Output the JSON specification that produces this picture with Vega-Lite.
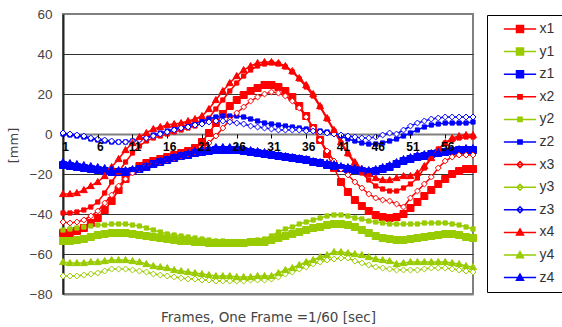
{
"$schema":"https://vega.github.io/schema/vega-lite/v6.json",
"width":410,"height":280,"autosize":"none",
"padding":{"left":63,"top":14,"right":89,"bottom":33},
"background":"white",
"config":{"view":{"stroke":"#808080","strokeWidth":2}},
"datasets":{"d":[
{"f":1,"s":"x1","v":-49.5},{"f":2,"s":"x1","v":-49.5},{"f":3,"s":"x1","v":-48.5},{"f":4,"s":"x1","v":-47},{"f":5,"s":"x1","v":-44.5},{"f":6,"s":"x1","v":-42},{"f":7,"s":"x1","v":-38},{"f":8,"s":"x1","v":-33.5},{"f":9,"s":"x1","v":-28},{"f":10,"s":"x1","v":-22.5},
{"f":11,"s":"x1","v":-18.5},{"f":12,"s":"x1","v":-16},{"f":13,"s":"x1","v":-14.5},{"f":14,"s":"x1","v":-13.5},{"f":15,"s":"x1","v":-12.5},{"f":16,"s":"x1","v":-11.5},{"f":17,"s":"x1","v":-10.5},{"f":18,"s":"x1","v":-9.5},{"f":19,"s":"x1","v":-8.5},{"f":20,"s":"x1","v":-7},
{"f":21,"s":"x1","v":-4},{"f":22,"s":"x1","v":0.5},{"f":23,"s":"x1","v":5.5},{"f":24,"s":"x1","v":10},{"f":25,"s":"x1","v":14},{"f":26,"s":"x1","v":17},{"f":27,"s":"x1","v":19.5},{"f":28,"s":"x1","v":21.5},{"f":29,"s":"x1","v":23},{"f":30,"s":"x1","v":24.5},
{"f":31,"s":"x1","v":24.5},{"f":32,"s":"x1","v":23.5},{"f":33,"s":"x1","v":21.5},{"f":34,"s":"x1","v":18.5},{"f":35,"s":"x1","v":14},{"f":36,"s":"x1","v":9},{"f":37,"s":"x1","v":3},{"f":38,"s":"x1","v":-3},{"f":39,"s":"x1","v":-10},{"f":40,"s":"x1","v":-17},
{"f":41,"s":"x1","v":-24},{"f":42,"s":"x1","v":-29},{"f":43,"s":"x1","v":-33},{"f":44,"s":"x1","v":-36},{"f":45,"s":"x1","v":-38.5},{"f":46,"s":"x1","v":-40.5},{"f":47,"s":"x1","v":-41.5},{"f":48,"s":"x1","v":-42},{"f":49,"s":"x1","v":-41.5},{"f":50,"s":"x1","v":-40},
{"f":51,"s":"x1","v":-37},{"f":52,"s":"x1","v":-34},{"f":53,"s":"x1","v":-31},{"f":54,"s":"x1","v":-28},{"f":55,"s":"x1","v":-25},{"f":56,"s":"x1","v":-22.5},{"f":57,"s":"x1","v":-20},{"f":58,"s":"x1","v":-18.5},{"f":59,"s":"x1","v":-17.5},{"f":60,"s":"x1","v":-17.5},
{"f":1,"s":"y1","v":-53.5},{"f":2,"s":"y1","v":-53.5},{"f":3,"s":"y1","v":-53},{"f":4,"s":"y1","v":-52.5},{"f":5,"s":"y1","v":-51.5},{"f":6,"s":"y1","v":-50.5},{"f":7,"s":"y1","v":-50},{"f":8,"s":"y1","v":-49.5},{"f":9,"s":"y1","v":-49.5},{"f":10,"s":"y1","v":-49.5},
{"f":11,"s":"y1","v":-50},{"f":12,"s":"y1","v":-50.5},{"f":13,"s":"y1","v":-51},{"f":14,"s":"y1","v":-51.5},{"f":15,"s":"y1","v":-52},{"f":16,"s":"y1","v":-52.5},{"f":17,"s":"y1","v":-53},{"f":18,"s":"y1","v":-53.5},{"f":19,"s":"y1","v":-53.5},{"f":20,"s":"y1","v":-54},
{"f":21,"s":"y1","v":-54},{"f":22,"s":"y1","v":-54.5},{"f":23,"s":"y1","v":-54.5},{"f":24,"s":"y1","v":-54.5},{"f":25,"s":"y1","v":-54.5},{"f":26,"s":"y1","v":-54.5},{"f":27,"s":"y1","v":-54.5},{"f":28,"s":"y1","v":-54},{"f":29,"s":"y1","v":-54},{"f":30,"s":"y1","v":-54},
{"f":31,"s":"y1","v":-53},{"f":32,"s":"y1","v":-52},{"f":33,"s":"y1","v":-51},{"f":34,"s":"y1","v":-50},{"f":35,"s":"y1","v":-49},{"f":36,"s":"y1","v":-48},{"f":37,"s":"y1","v":-47},{"f":38,"s":"y1","v":-46.5},{"f":39,"s":"y1","v":-45.5},{"f":40,"s":"y1","v":-45},
{"f":41,"s":"y1","v":-45},{"f":42,"s":"y1","v":-45.5},{"f":43,"s":"y1","v":-46.5},{"f":44,"s":"y1","v":-48},{"f":45,"s":"y1","v":-49.5},{"f":46,"s":"y1","v":-51},{"f":47,"s":"y1","v":-52},{"f":48,"s":"y1","v":-52.5},{"f":49,"s":"y1","v":-53},{"f":50,"s":"y1","v":-53},
{"f":51,"s":"y1","v":-52.5},{"f":52,"s":"y1","v":-52},{"f":53,"s":"y1","v":-51.5},{"f":54,"s":"y1","v":-51},{"f":55,"s":"y1","v":-50.5},{"f":56,"s":"y1","v":-50},{"f":57,"s":"y1","v":-50},{"f":58,"s":"y1","v":-50.5},{"f":59,"s":"y1","v":-51.5},{"f":60,"s":"y1","v":-52},
{"f":1,"s":"z1","v":-15.5},{"f":2,"s":"z1","v":-16},{"f":3,"s":"z1","v":-16.5},{"f":4,"s":"z1","v":-17},{"f":5,"s":"z1","v":-17.5},{"f":6,"s":"z1","v":-18},{"f":7,"s":"z1","v":-18.5},{"f":8,"s":"z1","v":-19},{"f":9,"s":"z1","v":-19},{"f":10,"s":"z1","v":-19},
{"f":11,"s":"z1","v":-18.5},{"f":12,"s":"z1","v":-17.5},{"f":13,"s":"z1","v":-16.5},{"f":14,"s":"z1","v":-15},{"f":15,"s":"z1","v":-14},{"f":16,"s":"z1","v":-13},{"f":17,"s":"z1","v":-12},{"f":18,"s":"z1","v":-11},{"f":19,"s":"z1","v":-10.5},{"f":20,"s":"z1","v":-9.5},
{"f":21,"s":"z1","v":-9},{"f":22,"s":"z1","v":-8.5},{"f":23,"s":"z1","v":-8},{"f":24,"s":"z1","v":-8},{"f":25,"s":"z1","v":-8},{"f":26,"s":"z1","v":-8},{"f":27,"s":"z1","v":-8.5},{"f":28,"s":"z1","v":-9},{"f":29,"s":"z1","v":-9.5},{"f":30,"s":"z1","v":-10},
{"f":31,"s":"z1","v":-10.5},{"f":32,"s":"z1","v":-11},{"f":33,"s":"z1","v":-11.5},{"f":34,"s":"z1","v":-12},{"f":35,"s":"z1","v":-12.5},{"f":36,"s":"z1","v":-13},{"f":37,"s":"z1","v":-14},{"f":38,"s":"z1","v":-14.5},{"f":39,"s":"z1","v":-15.5},{"f":40,"s":"z1","v":-16},
{"f":41,"s":"z1","v":-17},{"f":42,"s":"z1","v":-17.5},{"f":43,"s":"z1","v":-18},{"f":44,"s":"z1","v":-18.5},{"f":45,"s":"z1","v":-19},{"f":46,"s":"z1","v":-18.5},{"f":47,"s":"z1","v":-17.5},{"f":48,"s":"z1","v":-16.5},{"f":49,"s":"z1","v":-15},{"f":50,"s":"z1","v":-13.5},
{"f":51,"s":"z1","v":-12.5},{"f":52,"s":"z1","v":-11.5},{"f":53,"s":"z1","v":-11},{"f":54,"s":"z1","v":-10},{"f":55,"s":"z1","v":-9.5},{"f":56,"s":"z1","v":-9},{"f":57,"s":"z1","v":-8.5},{"f":58,"s":"z1","v":-8},{"f":59,"s":"z1","v":-8},{"f":60,"s":"z1","v":-8},
{"f":1,"s":"x2","v":-39.5},{"f":2,"s":"x2","v":-39.5},{"f":3,"s":"x2","v":-39},{"f":4,"s":"x2","v":-38},{"f":5,"s":"x2","v":-36.5},{"f":6,"s":"x2","v":-34},{"f":7,"s":"x2","v":-29.5},{"f":8,"s":"x2","v":-24},{"f":9,"s":"x2","v":-19},{"f":10,"s":"x2","v":-14},
{"f":11,"s":"x2","v":-9.5},{"f":12,"s":"x2","v":-6},{"f":13,"s":"x2","v":-3.5},{"f":14,"s":"x2","v":-2},{"f":15,"s":"x2","v":-1},{"f":16,"s":"x2","v":0},{"f":17,"s":"x2","v":1},{"f":18,"s":"x2","v":2},{"f":19,"s":"x2","v":3},{"f":20,"s":"x2","v":4},
{"f":21,"s":"x2","v":5.5},{"f":22,"s":"x2","v":8},{"f":23,"s":"x2","v":12.5},{"f":24,"s":"x2","v":17},{"f":25,"s":"x2","v":21.5},{"f":26,"s":"x2","v":25.5},{"f":27,"s":"x2","v":29},{"f":28,"s":"x2","v":32},{"f":29,"s":"x2","v":34},{"f":30,"s":"x2","v":35},
{"f":31,"s":"x2","v":35.5},{"f":32,"s":"x2","v":35},{"f":33,"s":"x2","v":33.5},{"f":34,"s":"x2","v":31},{"f":35,"s":"x2","v":27.5},{"f":36,"s":"x2","v":23.5},{"f":37,"s":"x2","v":19},{"f":38,"s":"x2","v":13.5},{"f":39,"s":"x2","v":7.5},{"f":40,"s":"x2","v":1.5},
{"f":41,"s":"x2","v":-4.5},{"f":42,"s":"x2","v":-10},{"f":43,"s":"x2","v":-15},{"f":44,"s":"x2","v":-19.5},{"f":45,"s":"x2","v":-23},{"f":46,"s":"x2","v":-26},{"f":47,"s":"x2","v":-27.5},{"f":48,"s":"x2","v":-28.5},{"f":49,"s":"x2","v":-28.5},{"f":50,"s":"x2","v":-27},
{"f":51,"s":"x2","v":-25},{"f":52,"s":"x2","v":-22},{"f":53,"s":"x2","v":-17},{"f":54,"s":"x2","v":-12},{"f":55,"s":"x2","v":-7.5},{"f":56,"s":"x2","v":-4.5},{"f":57,"s":"x2","v":-3},{"f":58,"s":"x2","v":-2},{"f":59,"s":"x2","v":-1.5},{"f":60,"s":"x2","v":-1.5},
{"f":1,"s":"y2","v":-48},{"f":2,"s":"y2","v":-47.5},{"f":3,"s":"y2","v":-47},{"f":4,"s":"y2","v":-46.5},{"f":5,"s":"y2","v":-46},{"f":6,"s":"y2","v":-45.5},{"f":7,"s":"y2","v":-45.5},{"f":8,"s":"y2","v":-45},{"f":9,"s":"y2","v":-45},{"f":10,"s":"y2","v":-45},
{"f":11,"s":"y2","v":-45.5},{"f":12,"s":"y2","v":-46},{"f":13,"s":"y2","v":-47},{"f":14,"s":"y2","v":-48},{"f":15,"s":"y2","v":-49},{"f":16,"s":"y2","v":-50},{"f":17,"s":"y2","v":-50.5},{"f":18,"s":"y2","v":-51},{"f":19,"s":"y2","v":-51.5},{"f":20,"s":"y2","v":-52},
{"f":21,"s":"y2","v":-52.5},{"f":22,"s":"y2","v":-53},{"f":23,"s":"y2","v":-53.5},{"f":24,"s":"y2","v":-53.5},{"f":25,"s":"y2","v":-54},{"f":26,"s":"y2","v":-54},{"f":27,"s":"y2","v":-54},{"f":28,"s":"y2","v":-53.5},{"f":29,"s":"y2","v":-53},{"f":30,"s":"y2","v":-52.5},
{"f":31,"s":"y2","v":-51},{"f":32,"s":"y2","v":-49},{"f":33,"s":"y2","v":-47.5},{"f":34,"s":"y2","v":-46.5},{"f":35,"s":"y2","v":-45},{"f":36,"s":"y2","v":-44},{"f":37,"s":"y2","v":-43},{"f":38,"s":"y2","v":-42},{"f":39,"s":"y2","v":-41},{"f":40,"s":"y2","v":-40.5},
{"f":41,"s":"y2","v":-40.5},{"f":42,"s":"y2","v":-41},{"f":43,"s":"y2","v":-42},{"f":44,"s":"y2","v":-42.5},{"f":45,"s":"y2","v":-43.5},{"f":46,"s":"y2","v":-44},{"f":47,"s":"y2","v":-44.5},{"f":48,"s":"y2","v":-45},{"f":49,"s":"y2","v":-45},{"f":50,"s":"y2","v":-45},
{"f":51,"s":"y2","v":-45},{"f":52,"s":"y2","v":-45},{"f":53,"s":"y2","v":-44.5},{"f":54,"s":"y2","v":-44.5},{"f":55,"s":"y2","v":-44.5},{"f":56,"s":"y2","v":-44.5},{"f":57,"s":"y2","v":-45},{"f":58,"s":"y2","v":-45.5},{"f":59,"s":"y2","v":-46.5},{"f":60,"s":"y2","v":-47.5},
{"f":1,"s":"z2","v":0},{"f":2,"s":"z2","v":-0.5},{"f":3,"s":"z2","v":-1},{"f":4,"s":"z2","v":-1.5},{"f":5,"s":"z2","v":-2.5},{"f":6,"s":"z2","v":-3},{"f":7,"s":"z2","v":-3.5},{"f":8,"s":"z2","v":-4},{"f":9,"s":"z2","v":-4},{"f":10,"s":"z2","v":-4},
{"f":11,"s":"z2","v":-3.5},{"f":12,"s":"z2","v":-2.5},{"f":13,"s":"z2","v":-1.5},{"f":14,"s":"z2","v":-0.5},{"f":15,"s":"z2","v":0.5},{"f":16,"s":"z2","v":1.5},{"f":17,"s":"z2","v":2.5},{"f":18,"s":"z2","v":3.5},{"f":19,"s":"z2","v":4.5},{"f":20,"s":"z2","v":5.5},
{"f":21,"s":"z2","v":6.5},{"f":22,"s":"z2","v":7.5},{"f":23,"s":"z2","v":8.5},{"f":24,"s":"z2","v":9},{"f":25,"s":"z2","v":9},{"f":26,"s":"z2","v":9},{"f":27,"s":"z2","v":8.5},{"f":28,"s":"z2","v":7.5},{"f":29,"s":"z2","v":6.5},{"f":30,"s":"z2","v":5.5},
{"f":31,"s":"z2","v":5},{"f":32,"s":"z2","v":4.5},{"f":33,"s":"z2","v":4},{"f":34,"s":"z2","v":3.5},{"f":35,"s":"z2","v":3},{"f":36,"s":"z2","v":2.5},{"f":37,"s":"z2","v":2},{"f":38,"s":"z2","v":1.5},{"f":39,"s":"z2","v":1},{"f":40,"s":"z2","v":0.5},
{"f":41,"s":"z2","v":-1},{"f":42,"s":"z2","v":-2.5},{"f":43,"s":"z2","v":-3.5},{"f":44,"s":"z2","v":-4.5},{"f":45,"s":"z2","v":-5},{"f":46,"s":"z2","v":-5},{"f":47,"s":"z2","v":-4.5},{"f":48,"s":"z2","v":-3.5},{"f":49,"s":"z2","v":-2.5},{"f":50,"s":"z2","v":-1},
{"f":51,"s":"z2","v":0.5},{"f":52,"s":"z2","v":2},{"f":53,"s":"z2","v":3.5},{"f":54,"s":"z2","v":4.5},{"f":55,"s":"z2","v":5},{"f":56,"s":"z2","v":5.5},{"f":57,"s":"z2","v":5.5},{"f":58,"s":"z2","v":5.5},{"f":59,"s":"z2","v":5.5},{"f":60,"s":"z2","v":6},
{"f":1,"s":"x3","v":-44},{"f":2,"s":"x3","v":-44.5},{"f":3,"s":"x3","v":-44},{"f":4,"s":"x3","v":-43},{"f":5,"s":"x3","v":-41},{"f":6,"s":"x3","v":-38.5},{"f":7,"s":"x3","v":-34.5},{"f":8,"s":"x3","v":-30.5},{"f":9,"s":"x3","v":-26},{"f":10,"s":"x3","v":-22.5},
{"f":11,"s":"x3","v":-19.5},{"f":12,"s":"x3","v":-17.5},{"f":13,"s":"x3","v":-16},{"f":14,"s":"x3","v":-15},{"f":15,"s":"x3","v":-14},{"f":16,"s":"x3","v":-13},{"f":17,"s":"x3","v":-12},{"f":18,"s":"x3","v":-11},{"f":19,"s":"x3","v":-10},{"f":20,"s":"x3","v":-9},
{"f":21,"s":"x3","v":-7.5},{"f":22,"s":"x3","v":-4.5},{"f":23,"s":"x3","v":-1},{"f":24,"s":"x3","v":3},{"f":25,"s":"x3","v":7},{"f":26,"s":"x3","v":10.5},{"f":27,"s":"x3","v":13.5},{"f":28,"s":"x3","v":16.5},{"f":29,"s":"x3","v":18.5},{"f":30,"s":"x3","v":20},
{"f":31,"s":"x3","v":21},{"f":32,"s":"x3","v":20.5},{"f":33,"s":"x3","v":19},{"f":34,"s":"x3","v":16.5},{"f":35,"s":"x3","v":13},{"f":36,"s":"x3","v":8.5},{"f":37,"s":"x3","v":3},{"f":38,"s":"x3","v":-3},{"f":39,"s":"x3","v":-8.5},{"f":40,"s":"x3","v":-13.5},
{"f":41,"s":"x3","v":-17.5},{"f":42,"s":"x3","v":-20.5},{"f":43,"s":"x3","v":-24},{"f":44,"s":"x3","v":-27},{"f":45,"s":"x3","v":-30},{"f":46,"s":"x3","v":-32},{"f":47,"s":"x3","v":-33},{"f":48,"s":"x3","v":-33.5},{"f":49,"s":"x3","v":-35},{"f":50,"s":"x3","v":-36.5},
{"f":51,"s":"x3","v":-32},{"f":52,"s":"x3","v":-28.5},{"f":53,"s":"x3","v":-25},{"f":54,"s":"x3","v":-21.5},{"f":55,"s":"x3","v":-17},{"f":56,"s":"x3","v":-13.5},{"f":57,"s":"x3","v":-11.5},{"f":58,"s":"x3","v":-10.5},{"f":59,"s":"x3","v":-10.5},{"f":60,"s":"x3","v":-10.5},
{"f":1,"s":"y3","v":-71},{"f":2,"s":"y3","v":-71},{"f":3,"s":"y3","v":-71},{"f":4,"s":"y3","v":-70.5},{"f":5,"s":"y3","v":-70},{"f":6,"s":"y3","v":-69.5},{"f":7,"s":"y3","v":-68.5},{"f":8,"s":"y3","v":-67.5},{"f":9,"s":"y3","v":-67.5},{"f":10,"s":"y3","v":-67.5},
{"f":11,"s":"y3","v":-68},{"f":12,"s":"y3","v":-68.5},{"f":13,"s":"y3","v":-69},{"f":14,"s":"y3","v":-70},{"f":15,"s":"y3","v":-70.5},{"f":16,"s":"y3","v":-71},{"f":17,"s":"y3","v":-71.5},{"f":18,"s":"y3","v":-72},{"f":19,"s":"y3","v":-72.5},{"f":20,"s":"y3","v":-72.5},
{"f":21,"s":"y3","v":-73},{"f":22,"s":"y3","v":-73},{"f":23,"s":"y3","v":-73.5},{"f":24,"s":"y3","v":-73.5},{"f":25,"s":"y3","v":-73.5},{"f":26,"s":"y3","v":-73.5},{"f":27,"s":"y3","v":-73.5},{"f":28,"s":"y3","v":-73},{"f":29,"s":"y3","v":-73},{"f":30,"s":"y3","v":-73},
{"f":31,"s":"y3","v":-72.5},{"f":32,"s":"y3","v":-71.5},{"f":33,"s":"y3","v":-70},{"f":34,"s":"y3","v":-69},{"f":35,"s":"y3","v":-67.5},{"f":36,"s":"y3","v":-66.5},{"f":37,"s":"y3","v":-65},{"f":38,"s":"y3","v":-64},{"f":39,"s":"y3","v":-63},{"f":40,"s":"y3","v":-62.5},
{"f":41,"s":"y3","v":-62},{"f":42,"s":"y3","v":-62},{"f":43,"s":"y3","v":-63.5},{"f":44,"s":"y3","v":-64.5},{"f":45,"s":"y3","v":-65.5},{"f":46,"s":"y3","v":-66.5},{"f":47,"s":"y3","v":-67},{"f":48,"s":"y3","v":-67.5},{"f":49,"s":"y3","v":-68},{"f":50,"s":"y3","v":-68},
{"f":51,"s":"y3","v":-68},{"f":52,"s":"y3","v":-68},{"f":53,"s":"y3","v":-67.5},{"f":54,"s":"y3","v":-67},{"f":55,"s":"y3","v":-67},{"f":56,"s":"y3","v":-67},{"f":57,"s":"y3","v":-67.5},{"f":58,"s":"y3","v":-68},{"f":59,"s":"y3","v":-68.5},{"f":60,"s":"y3","v":-69},
{"f":1,"s":"z3","v":0.5},{"f":2,"s":"z3","v":0},{"f":3,"s":"z3","v":-0.5},{"f":4,"s":"z3","v":-1},{"f":5,"s":"z3","v":-2},{"f":6,"s":"z3","v":-2.5},{"f":7,"s":"z3","v":-3},{"f":8,"s":"z3","v":-3.5},{"f":9,"s":"z3","v":-4},{"f":10,"s":"z3","v":-4},
{"f":11,"s":"z3","v":-3.5},{"f":12,"s":"z3","v":-3},{"f":13,"s":"z3","v":-2},{"f":14,"s":"z3","v":-1},{"f":15,"s":"z3","v":0},{"f":16,"s":"z3","v":1},{"f":17,"s":"z3","v":2},{"f":18,"s":"z3","v":3},{"f":19,"s":"z3","v":3.5},{"f":20,"s":"z3","v":4.5},
{"f":21,"s":"z3","v":5},{"f":22,"s":"z3","v":6},{"f":23,"s":"z3","v":6.5},{"f":24,"s":"z3","v":6.5},{"f":25,"s":"z3","v":6},{"f":26,"s":"z3","v":5.5},{"f":27,"s":"z3","v":5},{"f":28,"s":"z3","v":4},{"f":29,"s":"z3","v":3.5},{"f":30,"s":"z3","v":3},
{"f":31,"s":"z3","v":2.5},{"f":32,"s":"z3","v":2},{"f":33,"s":"z3","v":2},{"f":34,"s":"z3","v":2},{"f":35,"s":"z3","v":2},{"f":36,"s":"z3","v":1.5},{"f":37,"s":"z3","v":1.5},{"f":38,"s":"z3","v":1},{"f":39,"s":"z3","v":0.5},{"f":40,"s":"z3","v":0},
{"f":41,"s":"z3","v":-0.5},{"f":42,"s":"z3","v":-1},{"f":43,"s":"z3","v":-1.5},{"f":44,"s":"z3","v":-2},{"f":45,"s":"z3","v":-2},{"f":46,"s":"z3","v":-1.5},{"f":47,"s":"z3","v":-0.5},{"f":48,"s":"z3","v":0.5},{"f":49,"s":"z3","v":0},{"f":50,"s":"z3","v":2},
{"f":51,"s":"z3","v":4},{"f":52,"s":"z3","v":5.5},{"f":53,"s":"z3","v":6.5},{"f":54,"s":"z3","v":7.5},{"f":55,"s":"z3","v":8},{"f":56,"s":"z3","v":8.5},{"f":57,"s":"z3","v":8.5},{"f":58,"s":"z3","v":8.5},{"f":59,"s":"z3","v":8.5},{"f":60,"s":"z3","v":8.5},
{"f":1,"s":"x4","v":-30},{"f":2,"s":"x4","v":-30},{"f":3,"s":"x4","v":-29.5},{"f":4,"s":"x4","v":-28},{"f":5,"s":"x4","v":-26},{"f":6,"s":"x4","v":-24},{"f":7,"s":"x4","v":-21},{"f":8,"s":"x4","v":-16.5},{"f":9,"s":"x4","v":-12.5},{"f":10,"s":"x4","v":-8},
{"f":11,"s":"x4","v":-4.5},{"f":12,"s":"x4","v":-1.5},{"f":13,"s":"x4","v":0.5},{"f":14,"s":"x4","v":2.5},{"f":15,"s":"x4","v":3.5},{"f":16,"s":"x4","v":4.5},{"f":17,"s":"x4","v":5},{"f":18,"s":"x4","v":5.5},{"f":19,"s":"x4","v":6.5},{"f":20,"s":"x4","v":7.5},
{"f":21,"s":"x4","v":9},{"f":22,"s":"x4","v":12.5},{"f":23,"s":"x4","v":17},{"f":24,"s":"x4","v":21.5},{"f":25,"s":"x4","v":25.5},{"f":26,"s":"x4","v":29},{"f":27,"s":"x4","v":32},{"f":28,"s":"x4","v":34},{"f":29,"s":"x4","v":35.5},{"f":30,"s":"x4","v":36},
{"f":31,"s":"x4","v":36},{"f":32,"s":"x4","v":35.5},{"f":33,"s":"x4","v":34},{"f":34,"s":"x4","v":31.5},{"f":35,"s":"x4","v":28},{"f":36,"s":"x4","v":24.5},{"f":37,"s":"x4","v":20},{"f":38,"s":"x4","v":14},{"f":39,"s":"x4","v":8},{"f":40,"s":"x4","v":2},
{"f":41,"s":"x4","v":-4},{"f":42,"s":"x4","v":-9.5},{"f":43,"s":"x4","v":-14},{"f":44,"s":"x4","v":-17.5},{"f":45,"s":"x4","v":-20},{"f":46,"s":"x4","v":-22},{"f":47,"s":"x4","v":-23},{"f":48,"s":"x4","v":-23},{"f":49,"s":"x4","v":-22},{"f":50,"s":"x4","v":-21},
{"f":51,"s":"x4","v":-21},{"f":52,"s":"x4","v":-19.5},{"f":53,"s":"x4","v":-16},{"f":54,"s":"x4","v":-12},{"f":55,"s":"x4","v":-8},{"f":56,"s":"x4","v":-4.5},{"f":57,"s":"x4","v":-2},{"f":58,"s":"x4","v":-1},{"f":59,"s":"x4","v":-0.5},{"f":60,"s":"x4","v":-0.5},
{"f":1,"s":"y4","v":-64},{"f":2,"s":"y4","v":-64.5},{"f":3,"s":"y4","v":-64.5},{"f":4,"s":"y4","v":-64.5},{"f":5,"s":"y4","v":-64},{"f":6,"s":"y4","v":-64},{"f":7,"s":"y4","v":-63.5},{"f":8,"s":"y4","v":-63},{"f":9,"s":"y4","v":-63},{"f":10,"s":"y4","v":-63},
{"f":11,"s":"y4","v":-63.5},{"f":12,"s":"y4","v":-64},{"f":13,"s":"y4","v":-65},{"f":14,"s":"y4","v":-66},{"f":15,"s":"y4","v":-66.5},{"f":16,"s":"y4","v":-67},{"f":17,"s":"y4","v":-68},{"f":18,"s":"y4","v":-68.5},{"f":19,"s":"y4","v":-69},{"f":20,"s":"y4","v":-69.5},
{"f":21,"s":"y4","v":-70},{"f":22,"s":"y4","v":-70.5},{"f":23,"s":"y4","v":-71},{"f":24,"s":"y4","v":-71},{"f":25,"s":"y4","v":-71},{"f":26,"s":"y4","v":-71.5},{"f":27,"s":"y4","v":-71.5},{"f":28,"s":"y4","v":-71.5},{"f":29,"s":"y4","v":-71},{"f":30,"s":"y4","v":-71},
{"f":31,"s":"y4","v":-71},{"f":32,"s":"y4","v":-69.5},{"f":33,"s":"y4","v":-68},{"f":34,"s":"y4","v":-67},{"f":35,"s":"y4","v":-65.5},{"f":36,"s":"y4","v":-64},{"f":37,"s":"y4","v":-63},{"f":38,"s":"y4","v":-61.5},{"f":39,"s":"y4","v":-60.5},{"f":40,"s":"y4","v":-59},
{"f":41,"s":"y4","v":-59},{"f":42,"s":"y4","v":-59.5},{"f":43,"s":"y4","v":-60},{"f":44,"s":"y4","v":-60.5},{"f":45,"s":"y4","v":-61.5},{"f":46,"s":"y4","v":-62.5},{"f":47,"s":"y4","v":-63},{"f":48,"s":"y4","v":-63.5},{"f":49,"s":"y4","v":-65},{"f":50,"s":"y4","v":-64.5},
{"f":51,"s":"y4","v":-64},{"f":52,"s":"y4","v":-64},{"f":53,"s":"y4","v":-64},{"f":54,"s":"y4","v":-64},{"f":55,"s":"y4","v":-64},{"f":56,"s":"y4","v":-64},{"f":57,"s":"y4","v":-64.5},{"f":58,"s":"y4","v":-65},{"f":59,"s":"y4","v":-66},{"f":60,"s":"y4","v":-66.5},
{"f":1,"s":"z4","v":-14},{"f":2,"s":"z4","v":-14.5},{"f":3,"s":"z4","v":-15},{"f":4,"s":"z4","v":-15.5},{"f":5,"s":"z4","v":-16},{"f":6,"s":"z4","v":-16.5},{"f":7,"s":"z4","v":-17},{"f":8,"s":"z4","v":-17.5},{"f":9,"s":"z4","v":-18},{"f":10,"s":"z4","v":-18},
{"f":11,"s":"z4","v":-17.5},{"f":12,"s":"z4","v":-17},{"f":13,"s":"z4","v":-16},{"f":14,"s":"z4","v":-15},{"f":15,"s":"z4","v":-13.5},{"f":16,"s":"z4","v":-12.5},{"f":17,"s":"z4","v":-11.5},{"f":18,"s":"z4","v":-10.5},{"f":19,"s":"z4","v":-9.5},{"f":20,"s":"z4","v":-8.5},
{"f":21,"s":"z4","v":-7.5},{"f":22,"s":"z4","v":-7},{"f":23,"s":"z4","v":-6.5},{"f":24,"s":"z4","v":-6.5},{"f":25,"s":"z4","v":-6.5},{"f":26,"s":"z4","v":-7},{"f":27,"s":"z4","v":-7.5},{"f":28,"s":"z4","v":-8},{"f":29,"s":"z4","v":-8.5},{"f":30,"s":"z4","v":-9},
{"f":31,"s":"z4","v":-10},{"f":32,"s":"z4","v":-10.5},{"f":33,"s":"z4","v":-11},{"f":34,"s":"z4","v":-11.5},{"f":35,"s":"z4","v":-12},{"f":36,"s":"z4","v":-12.5},{"f":37,"s":"z4","v":-13.5},{"f":38,"s":"z4","v":-14},{"f":39,"s":"z4","v":-14.5},{"f":40,"s":"z4","v":-15},
{"f":41,"s":"z4","v":-16},{"f":42,"s":"z4","v":-16.5},{"f":43,"s":"z4","v":-17},{"f":44,"s":"z4","v":-17.5},{"f":45,"s":"z4","v":-18},{"f":46,"s":"z4","v":-17.5},{"f":47,"s":"z4","v":-16.5},{"f":48,"s":"z4","v":-15.5},{"f":49,"s":"z4","v":-14},{"f":50,"s":"z4","v":-12.5},
{"f":51,"s":"z4","v":-11.5},{"f":52,"s":"z4","v":-10.5},{"f":53,"s":"z4","v":-10},{"f":54,"s":"z4","v":-9.5},{"f":55,"s":"z4","v":-9},{"f":56,"s":"z4","v":-8.5},{"f":57,"s":"z4","v":-8},{"f":58,"s":"z4","v":-7.5},{"f":59,"s":"z4","v":-7},{"f":60,"s":"z4","v":-7}
]},
"data":{"name":"d"},
"encoding":{
 "x":{"field":"f","type":"quantitative","scale":{"domain":[1,60],"nice":false,"zero":false},
  "axis":{"values":[1,6,11,16,21,26,31,36,41,46,51,56],"offset":-160,"grid":false,"domain":false,"tickColor":"#000","tickSize":4,"tickWidth":1,"labelFont":"Liberation Sans","labelFontSize":12,"labelFontWeight":"bold","labelColor":"#000","labelPadding":3,"labelOffset":2,"labelFlush":false,"labelBaseline":"top","title":"Frames, One Frame =1/60 [sec]","titleFont":"DejaVu Sans","titleFontSize":13.5,"titleFontWeight":"normal","titleColor":"#444444","titleY":187,"titleBaseline":"alphabetic","zindex":1}},
 "y":{"field":"v","type":"quantitative","scale":{"domain":[-80,60],"nice":false,"zero":false},
  "axis":{"values":[-80,-60,-40,-20,0,20,40,60],"title":"[mm]","grid":true,
   "gridColor":{"condition":{"test":"datum.value==60||datum.value==-80||datum.value==0","value":"#808080"},"value":"#333333"},
   "gridWidth":{"condition":{"test":"datum.value==0||datum.value==-80","value":2},"value":1},
   "ticks":false,"labelPadding":11,"domainColor":"#222222","domainWidth":2,"labelFont":"Liberation Sans","labelFontSize":13.5,"labelColor":"#444444","titleFont":"DejaVu Sans","titleFontSize":13,"titleFontWeight":"normal","titleColor":"#444444","titleX":-50,"titleY":131,"titleBaseline":"middle"}}
},
"layer":[
 {"mark":{"type":"line","strokeWidth":1.5,"opacity":1},
  "encoding":{"color":{"field":"s","type":"nominal","legend":null,
   "scale":{"domain":["x1","x2","x3","x4","y1","y2","y3","y4","z1","z2","z3","z4"],"range":["#FF0000","#FF0000","#FF0000","#FF0000","#99CC00","#99CC00","#99CC00","#99CC00","#0000FF","#0000FF","#0000FF","#0000FF"]}}}},
 {"mark":{"type":"point","size":49,"strokeWidth":1,"opacity":1,"filled":true},
  "encoding":{
   "stroke":{"field":"s","type":"nominal","legend":null,
    "scale":{"domain":["x1","y1","z1","x2","y2","z2","x3","y3","z3","x4","y4","z4"],"range":["#FF0000","#99CC00","#0000FF","#FF0000","#99CC00","#0000FF","#FF0000","#99CC00","#0000FF","#FF0000","#99CC00","#0000FF"]}},
   "fill":{"field":"s","type":"nominal","legend":null,"scale":{"domain":["x1","y1","z1","x2","y2","z2","x3","y3","z3","x4","y4","z4"],"range":["#FF0000","#99CC00","#0000FF","#FF0000","#99CC00","#0000FF","#FFFFFF","#FFFFFF","#FFFFFF","#FF0000","#99CC00","#0000FF"]}},
   "shape":{"field":"s","type":"nominal","legend":null,"scale":{"domain":["x1","y1","z1","x2","y2","z2","x3","y3","z3","x4","y4","z4"],"range":["M-1,-1H1V1H-1Z","M-1,-1H1V1H-1Z","M-1,-1H1V1H-1Z","M-0.6,-0.6H0.6V0.6H-0.6Z","M-0.6,-0.6H0.6V0.6H-0.6Z","M-0.6,-0.6H0.6V0.6H-0.6Z","M0,-0.85L0.85,0L0,0.85L-0.85,0Z","M0,-0.85L0.85,0L0,0.85L-0.85,0Z","M0,-0.85L0.85,0L0,0.85L-0.85,0Z","M0,-1L1,0.75H-1Z","M0,-1L1,0.75H-1Z","M0,-1L1,0.75H-1Z"]}}}},
 {"transform":[{"filter":"datum.f == 1"}],
  "mark":{"type":"point","size":49,"strokeWidth":1.5,"opacity":0,"filled":true},
  "encoding":{
   "stroke":{"field":"s","type":"nominal",
    "scale":{"domain":["x1","y1","z1","x2","y2","z2","x3","y3","z3","x4","y4","z4"],"range":["#FF0000","#99CC00","#0000FF","#FF0000","#99CC00","#0000FF","#FF0000","#99CC00","#0000FF","#FF0000","#99CC00","#0000FF"]},
    "legend":{"title":null,"orient":"none","legendX":424,"legendY":1,"padding":7,"strokeColor":"#000000","fillColor":"white","symbolSize":49,"symbolStrokeWidth":1.5,"symbolOpacity":1,"symbolOffset":19,"labelOffset":12.5,"rowPadding":8.6,"labelFont":"Liberation Sans","labelFontSize":14,"labelColor":"#333333"}},
   "fill":{"field":"s","type":"nominal","scale":{"domain":["x1","y1","z1","x2","y2","z2","x3","y3","z3","x4","y4","z4"],"range":["#FF0000","#99CC00","#0000FF","#FF0000","#99CC00","#0000FF","#FFFFFF","#FFFFFF","#FFFFFF","#FF0000","#99CC00","#0000FF"]},
    "legend":{"title":null,"orient":"none","legendX":424,"legendY":1,"padding":7,"strokeColor":"#000000","fillColor":"white","symbolSize":49,"symbolStrokeWidth":1.5,"symbolOpacity":1,"symbolOffset":19,"labelOffset":12.5,"rowPadding":8.6,"labelFont":"Liberation Sans","labelFontSize":14,"labelColor":"#333333"}},
   "shape":{"field":"s","type":"nominal","scale":{"domain":["x1","y1","z1","x2","y2","z2","x3","y3","z3","x4","y4","z4"],"range":["M-4.6,0H4.6 M-1,-1H1V1H-1Z","M-4.6,0H4.6 M-1,-1H1V1H-1Z","M-4.6,0H4.6 M-1,-1H1V1H-1Z","M-4.6,0H4.6 M-0.6,-0.6H0.6V0.6H-0.6Z","M-4.6,0H4.6 M-0.6,-0.6H0.6V0.6H-0.6Z","M-4.6,0H4.6 M-0.6,-0.6H0.6V0.6H-0.6Z","M-4.6,0H4.6 M0,-0.85L0.85,0L0,0.85L-0.85,0Z","M-4.6,0H4.6 M0,-0.85L0.85,0L0,0.85L-0.85,0Z","M-4.6,0H4.6 M0,-0.85L0.85,0L0,0.85L-0.85,0Z","M-4.6,0H4.6 M0,-1L1,0.75H-1Z","M-4.6,0H4.6 M0,-1L1,0.75H-1Z","M-4.6,0H4.6 M0,-1L1,0.75H-1Z"]},
    "legend":{"title":null,"orient":"none","legendX":424,"legendY":1,"padding":7,"strokeColor":"#000000","fillColor":"white","symbolSize":49,"symbolStrokeWidth":1.5,"symbolOpacity":1,"symbolOffset":19,"labelOffset":12.5,"rowPadding":8.6,"labelFont":"Liberation Sans","labelFontSize":14,"labelColor":"#333333"}}}}
],
"resolve":{"scale":{"shape":"independent","stroke":"independent","fill":"independent"}}
}
